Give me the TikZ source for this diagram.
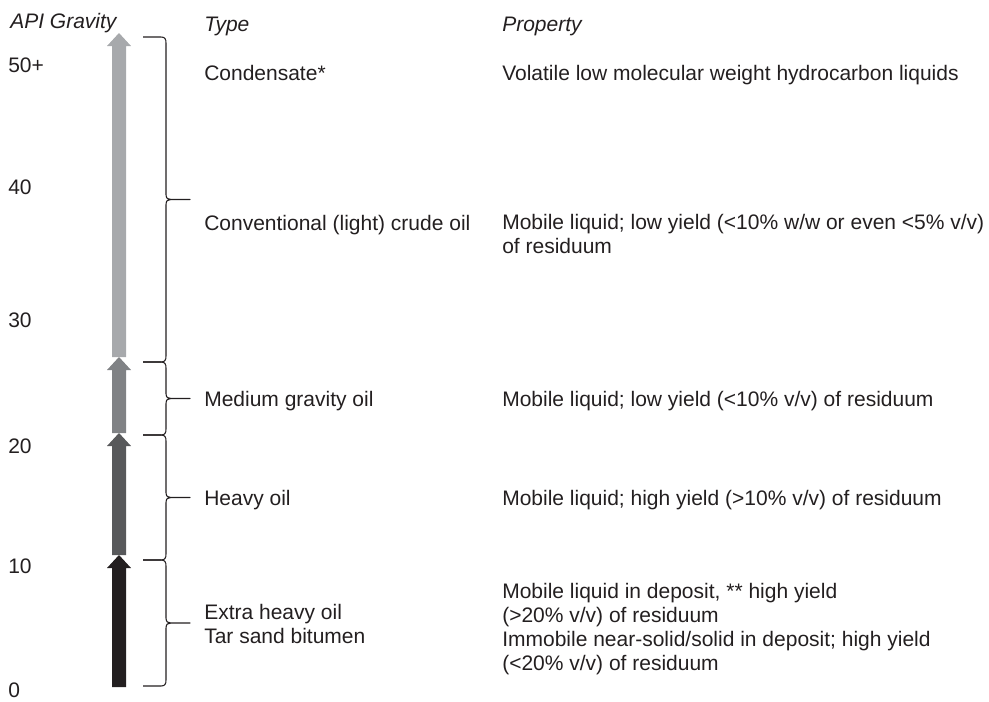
\documentclass[tikz,border=0pt]{standalone}
\usepackage{fontspec}
\setmainfont{Liberation Sans}
\usetikzlibrary{calc}

\definecolor{ink}{RGB}{35,31,32}
\definecolor{oillight}{RGB}{167,169,172}
\definecolor{oilmid}{RGB}{128,130,133}
\definecolor{oildark}{RGB}{88,89,91}
\definecolor{oilblack}{RGB}{35,31,32}

\begin{document}
\begin{tikzpicture}[x=0.75pt,y=-0.75pt,
    every node/.style={inner sep=0pt,text=ink,font=\fontsize{15.75}{18}\selectfont},
    head/.style={anchor=base west,font=\fontsize{15.75}{18}\selectfont\itshape},
    lbl/.style={anchor=base west},
    block/.style={anchor=west,align=left},
    brace/.style={draw=ink,line width=0.8pt,line join=round,
      to path={-- ++(18,0) .. controls +(4,0) and +(0,-4) .. ++(5,6)
        -- ($(\tikztostart)!0.5!(\tikztotarget)+(23,-5)$)
        .. controls +(0,4) and +(-3,0) .. ++(5,5) -- ++(19,0) -- ++(-19,0)
        .. controls +(-3,0) and +(0,-4) .. ++(-5,5)
        -- ($(\tikztotarget)+(23,-6)$)
        .. controls +(0,4) and +(4,0) .. ++(-5,6) -- (\tikztotarget)}}]
  \useasboundingbox (0,0) rectangle (989,701);

  % headings
  \node[head] (api)  at (10,28)  {API Gravity};
  \node[head] (type) at (204,31) {Type};
  \node[head] (prop) at (502,31) {Property};

  % gravity scale
  \node[lbl] (g50) at (8,72)  {50+};
  \node[lbl] (g40) at (8,194) {40};
  \node[lbl] (g30) at (8,327) {30};
  \node[lbl] (g20) at (8,453) {20};
  \node[lbl] (g10) at (8,573) {10};
  \node[lbl] (g0)  at (8,697) {0};

  % arrows, lightest on top
  \foreach \ya/\yb/\fillc in {33/357/oillight, 357/433/oilmid, 433/555/oildark, 555/687/oilblack}
    \fill[\fillc] (112,\yb) -- (112,\ya+13) -- (107,\ya+13) -- (119,\ya)
      -- (131,\ya+13) -- (126,\ya+13) -- (126,\yb) -- cycle;

  % braces
  \coordinate (b0) at (143,37);
  \coordinate (b1) at (143,362);
  \coordinate (b2) at (143,435);
  \coordinate (b3) at (143,560);
  \coordinate (b4) at (143,686);
  \draw[brace] (b0) to (b1);
  \draw[brace] (b1) to (b2);
  \draw[brace] (b2) to (b3);
  \draw[brace] (b3) to (b4);

  % types
  \node[lbl] (cond)  at (204,80)  {Condensate*};
  \node[lbl] (conv)  at (204,230) {Conventional (light) crude oil};
  \node[lbl] (med)   at (204,406) {Medium gravity oil};
  \node[lbl] (heavy) at (204,505) {Heavy oil};
  \node[block] (xheavy) at (204,624) {Extra heavy oil\\Tar sand bitumen};

  % properties
  \node[lbl] (pcond)  at (502,80) {Volatile low molecular weight hydrocarbon liquids};
  \node[block] (pconv) at (502,234) {Mobile liquid; low yield (<10\% w/w or even <5\% v/v)\\of residuum};
  \node[lbl] (pmed)   at (502,406) {Mobile liquid; low yield (<10\% v/v) of residuum};
  \node[lbl] (pheavy) at (502,505) {Mobile liquid; high yield (>10\% v/v) of residuum};
  \node[block] (pxheavy) at (502,629.5) {Mobile liquid in deposit, ** high yield\\(>20\% v/v) of residuum\\Immobile near-solid/solid in deposit; high yield\\(<20\% v/v) of residuum};
\end{tikzpicture}
\end{document}
